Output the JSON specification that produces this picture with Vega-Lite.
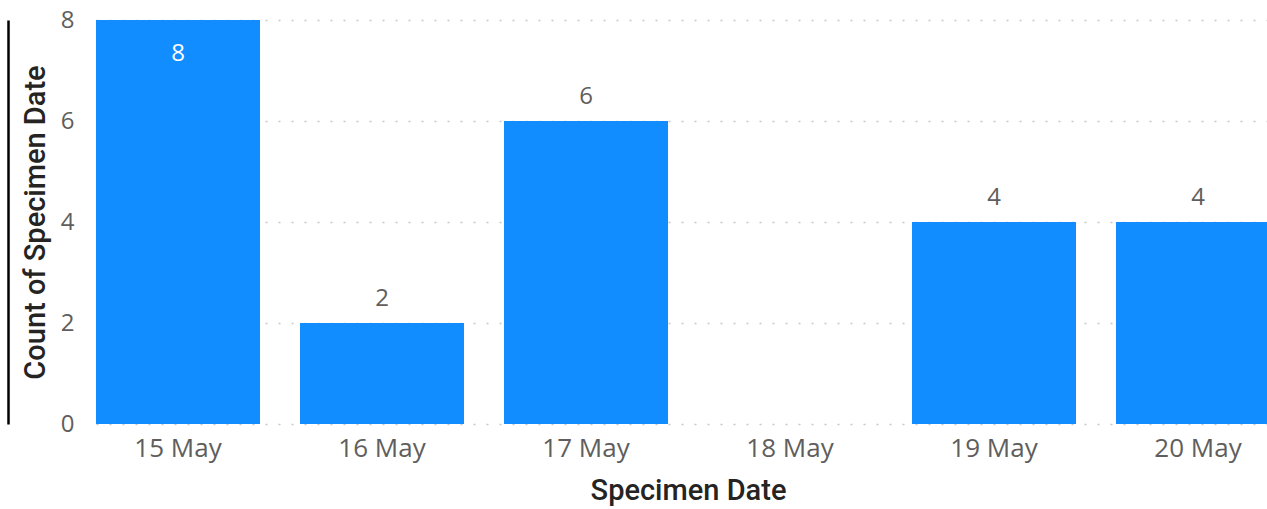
{
  "$schema": "https://vega.github.io/schema/vega-lite/v6.json",
  "width": 1171,
  "height": 404,
  "autosize": "none",
  "padding": {"left": 96, "top": 20, "right": 0, "bottom": 85},
  "background": "white",
  "config": {"view": {"stroke": null}},
  "data": {"values": [
    {"date": "15 May", "count": 8},
    {"date": "16 May", "count": 2},
    {"date": "17 May", "count": 6},
    {"date": "19 May", "count": 4},
    {"date": "20 May", "count": 4}
  ]},
  "encoding": {
    "x": {
      "field": "date", "type": "nominal", "sort": null,
      "scale": {"domain": ["15 May", "16 May", "17 May", "18 May", "19 May", "20 May"], "range": [0, 1184], "paddingInner": 0.196, "paddingOuter": 0},
      "axis": {"title": "Specimen Date", "labelAngle": 0, "labelFont": "Open Sans", "labelFontSize": 26, "labelColor": "#605E5C", "labelPadding": 11, "ticks": false, "domain": false, "titleFont": "Roboto", "titleFontSize": 29, "titleFontWeight": 500, "titleColor": "#252423", "titlePadding": 15}
    }
  },
  "layer": [
    {
      "mark": {"type": "bar", "color": "#118DFF", "clip": true},
      "encoding": {
        "y": {
          "field": "count", "type": "quantitative",
          "scale": {"domain": [0, 8]},
          "axis": {"title": "Count of Specimen Date", "values": [0, 2, 4, 6, 8], "labelFont": "Open Sans", "labelFontSize": 24, "labelColor": "#605E5C", "labelPadding": 22, "ticks": false, "domain": false, "grid": true, "gridColor": "#C8C8C8", "gridDash": [2, 11], "gridWidth": 1.5, "titleFont": "Roboto", "titleFontSize": 29, "titleFontWeight": 500, "titleColor": "#252423", "titlePadding": 10}
        }
      }
    },
    {
      "mark": {"type": "bar", "opacity": 0},
      "encoding": {
        "y": {
          "field": "count", "type": "quantitative",
          "scale": {"domain": [0, 8]},
          "axis": {"orient": "right", "offset": -1259, "title": null, "labels": false, "ticks": false, "grid": false, "domain": true, "domainColor": "#000000", "domainWidth": 2.5}
        }
      }
    },
    {
      "transform": [{"filter": "datum.count < 8"}],
      "mark": {"type": "text", "font": "Open Sans", "fontSize": 24, "color": "#605E5C", "baseline": "middle", "dy": -24},
      "encoding": {"y": {"field": "count", "type": "quantitative", "axis": null}, "text": {"field": "count", "type": "quantitative"}}
    },
    {
      "transform": [{"filter": "datum.count >= 8"}],
      "mark": {"type": "text", "font": "Open Sans", "fontSize": 24, "color": "white", "baseline": "middle", "dy": 34},
      "encoding": {"y": {"field": "count", "type": "quantitative", "axis": null}, "text": {"field": "count", "type": "quantitative"}}
    }
  ],
  "resolve": {"axis": {"y": "independent"}}
}
